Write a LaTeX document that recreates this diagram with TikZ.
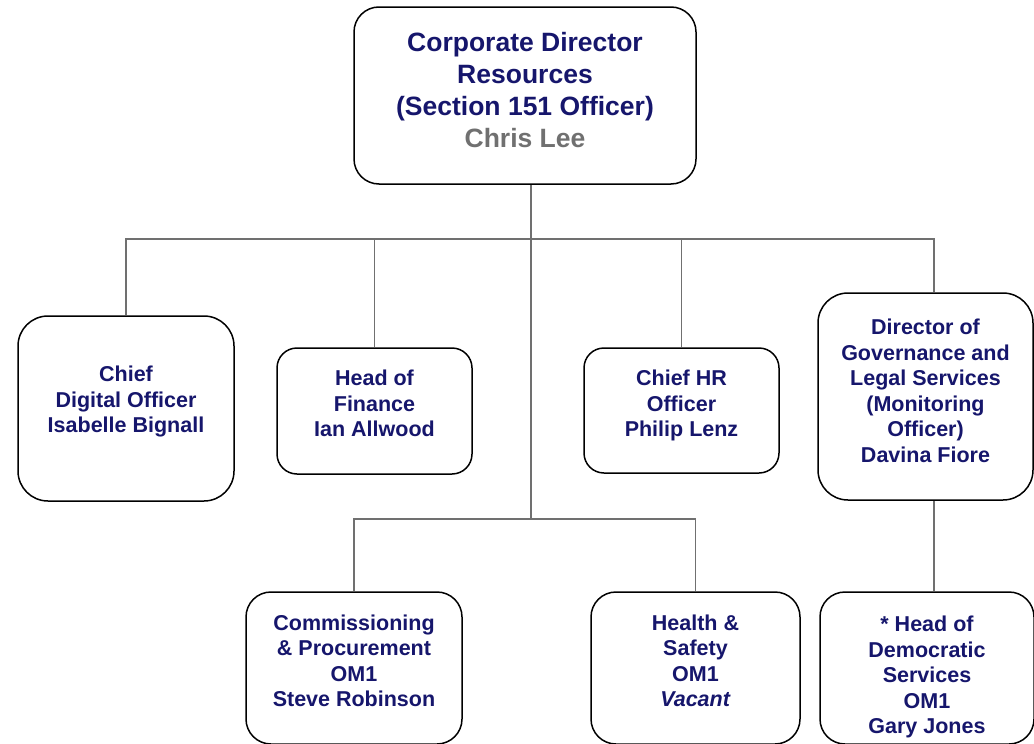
\documentclass[tikz,border=0pt]{standalone}
\usepackage{xcolor}
\usepackage{fontspec}
\setmainfont{Liberation Sans}
\usepackage{tikz}

\definecolor{navytext}{RGB}{22,22,108}
\definecolor{nametext}{RGB}{112,112,112}
\definecolor{linkgray}{RGB}{112,112,112}

\tikzset{
    post/.style={rectangle, draw=black, line width=1.5pt, fill=white},
    caption/.style={align=center, text=navytext, yshift=#1,
        font=\bfseries\fontsize{21.5}{25.5}\selectfont},
    link/.style={draw=linkgray, line width=1.8pt}
}

\begin{document}
\begin{tikzpicture}[x=1pt, y=1pt]
    \useasboundingbox (0,0) rectangle (1034,-744);

    \node[post, rounded corners=25pt, minimum width=342pt, minimum height=177pt,
        label={[caption=5.5pt, font=\bfseries\fontsize{26.5}{32}\selectfont]center:%
        {Corporate Director\\Resources\\(Section 151 Officer)\\\textcolor{nametext}{Chris Lee}}}]
        (cdr) at (525,-95.5) {};

    \node[post, rounded corners=30pt, minimum width=216pt, minimum height=185pt,
        below of=cdr, node distance=313pt, xshift=-399pt,
        label={[caption=7pt]center:{Chief\\Digital Officer\\Isabelle Bignall}}] (cdo) {};
    \node[post, rounded corners=20pt, minimum width=195pt, minimum height=126pt,
        right of=cdo, node distance=248.5pt, yshift=-2.5pt,
        label={[caption=7.5pt]center:{Head of\\Finance\\Ian Allwood}}] (fin) {};
    \node[post, rounded corners=20pt, minimum width=195pt, minimum height=125pt,
        right of=fin, node distance=307pt, yshift=0.5pt,
        label={[caption=5pt]center:{Chief HR\\Officer\\Philip Lenz}}] (hr) {};
    \node[post, rounded corners=30pt, minimum width=215pt, minimum height=207pt,
        right of=hr, node distance=244pt, yshift=14pt,
        label={[caption=5.5pt]center:{Director of\\Governance and\\Legal Services\\(Monitoring\\Officer)\\Davina Fiore}}] (gov) {};

    \node[post, rounded corners=25pt, minimum width=216pt, minimum height=152pt,
        below of=cdr, node distance=572.5pt, xshift=-171pt,
        label={[caption=7pt]center:{Commissioning\\\& Procurement\\OM1\\Steve Robinson}}] (cp) {};
    \node[post, rounded corners=25pt, minimum width=209pt, minimum height=152pt,
        right of=cp, node distance=341.5pt,
        label={[caption=7pt]center:{Health \&\\Safety\\OM1\\\textit{Vacant}}}] (hs) {};
    \node[post, rounded corners=25pt, minimum width=214pt, minimum height=152pt,
        right of=hs, node distance=231.5pt,
        label={[caption=-9pt]center:{* Head of\\Democratic\\Services\\OM1\\Gary Jones}}] (dem) {};

    \coordinate (bus) at ([xshift=6pt, yshift=-54pt]cdr.south);
    \coordinate (split) at ([xshift=6pt, yshift=-334pt]cdr.south);

    \draw[link] ([xshift=6pt]cdr.south) -- (split);
    \draw[link] (cdo.north) |- (bus) -| ([xshift=8.5pt]gov.north);
    \draw[link] (fin.north) -- (fin.north |- bus);
    \draw[link] (hr.north) -- (hr.north |- bus);
    \draw[link] (cp.north) |- (split) -| (hs.north);
    \draw[link] ([xshift=8.5pt]gov.south) -- ([xshift=7pt]dem.north);
\end{tikzpicture}
\end{document}
